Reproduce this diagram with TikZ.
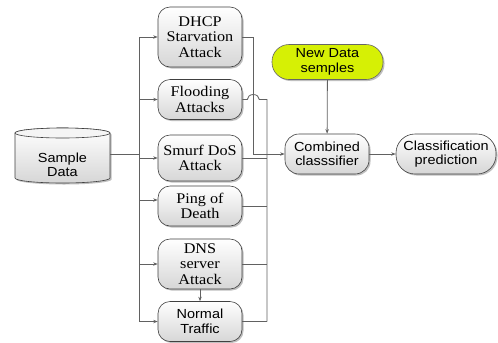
\documentclass[tikz,border=0pt]{standalone}
\usepackage{fontspec}
\setmainfont{Liberation Serif}[FakeStretch=1.1]
\setsansfont{Liberation Sans}[FakeStretch=1.1]
\usetikzlibrary{arrows.meta,shadows}
\definecolor{limefill}{RGB}{214,240,5}
\begin{document}
\begin{tikzpicture}[x=1bp,y=-1bp,
 shad/.style={drop shadow={shadow xshift=1.5bp,shadow yshift=-1.5bp,fill=black!45,opacity=0.55}},
 box/.style={draw=black!75, line width=0.6bp, rounded corners=12bp, top color=white, bottom color=black!16, shad, minimum width=84bp, align=center, inner sep=1bp},
 serif/.style={font=\fontsize{14.8}{15.5}\selectfont},
 sans/.style={font=\sffamily\fontsize{13.2}{14.5}\selectfont},
 conn/.style={draw=black!62, line width=0.8bp},
 arr/.style={conn, -{Stealth[length=4.5bp,width=3.4bp]}},
]
\fill[white] (0,0) rectangle (498,342);
\useasboundingbox (0,0) rectangle (498,342);

% cylinder
\path[draw=black!75, line width=0.6bp, top color=white, bottom color=black!16, shad]
  (15,133) -- (15,178) arc[start angle=180,end angle=0,x radius=47.5,y radius=5]
  -- (110,133) arc[start angle=0,end angle=-180,x radius=47.5,y radius=5] -- cycle;
\draw[black!75, line width=0.6bp, fill=white!96!black] (62.5,133) ellipse[x radius=47.5, y radius=5];
\node[sans, align=center] (sd) at (62.5,165) {Sample\\Data};
\coordinate (sdout) at (110,154);

% left column
\node[box,serif,minimum height=60bp] (dhcp) at (200,37) {DHCP\\Starvation\\Attack};
\node[box,serif,minimum height=40bp] (flood) at (200,99.5) {Flooding\\Attacks};
\node[box,serif,minimum height=46bp] (smurf) at (200,158) {Smurf DoS\\Attack};
\node[box,serif,minimum height=40bp] (ping) at (200,206) {Ping of\\Death};
\node[box,serif,minimum height=50bp] (dns) at (200,264) {DNS\\server\\Attack};
\node[box,sans,minimum height=40bp] (normal) at (200,321.5) {Normal\\Traffic};

% right
\node[draw=black!60, line width=0.6bp, fill=limefill, rounded corners=17bp, minimum width=111bp, minimum height=35bp, shad, sans, align=center, inner sep=1bp] (new) at (327.5,62) {New Data\\semples};
\node[box,sans,minimum height=40bp,rounded corners=14bp] (comb) at (327,154) {Combined\\classsifier};
\node[box,sans,minimum width=100bp,minimum height=40bp,rounded corners=19bp] (cls) at (446,154) {Classification\\prediction};

% trunk
\coordinate (tt) at (139,37);
\coordinate (tb) at (139,322);
\coordinate (b1) at (253,0);
\coordinate (b2) at (267,0);
\draw[conn] (sdout) -- (tt |- sdout);
\draw[conn] (tt) -- (tb);
\draw[arr] (tt |- dhcp.west) -- (dhcp.west);
\draw[arr] (tt |- flood.west) -- (flood.west);
\draw[arr] (tt |- smurf.west) -- (smurf.west);
\draw[arr] ([yshift=6bp]ping.west -| tt) -- ([yshift=6bp]ping.west);
\draw[arr] (tt |- dns.west) -- (dns.west);
\draw[arr] (tt |- normal.west) -- (normal.west);
\draw[arr] (dns) -- (normal);

% outputs
\draw[arr] (dhcp.east) -- (dhcp.east -| b1) -- (b1 |- comb.west) -- (comb.west);
\draw[conn] (flood.east) -- ++(5,0) arc[start angle=180,end angle=360,x radius=6,y radius=5]
  -- (flood.east -| b2) -- (b2 |- normal.east);
\draw[conn] (smurf.east) -- (smurf.east -| b2);
\draw[conn] (ping.east) -- (ping.east -| b2);
\draw[conn] (dns.east) -- (dns.east -| b2);
\draw[conn] (normal.east) -- (normal.east -| b2);
\draw[arr] (new) -- (comb);
\draw[arr] (comb.east) -- (cls.west);
\end{tikzpicture}
\end{document}
